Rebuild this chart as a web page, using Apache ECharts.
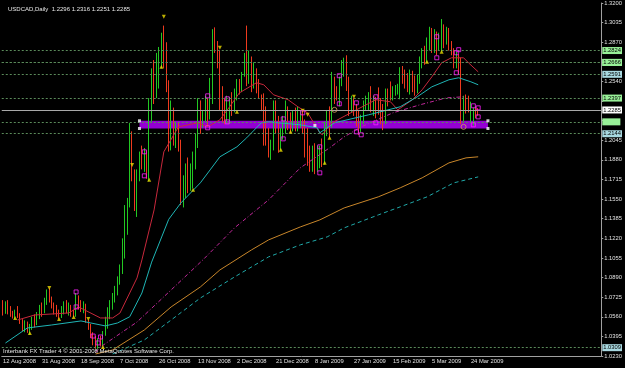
<!DOCTYPE html>
<html>
<head>
<meta charset="utf-8">
<script src="https://cdn.jsdelivr.net/npm/echarts@6/dist/echarts.min.js"></script>
<style>
  html, body { margin: 0; padding: 0; background: #000; }
  #chart { width: 625px; height: 368px; }
</style>
</head>
<body>
<div id="chart"></div>
<script>
// bars: [open, close, low, high], one per daily bar from 12 Aug 2008
const ohlc = [
  [1.0640,1.0600,1.0570,1.0700],[1.0600,1.0660,1.0585,1.0690],[1.0660,1.0620,1.0580,1.0700],[1.0620,1.0590,1.0560,1.0650],
  [1.0590,1.0560,1.0545,1.0610],[1.0560,1.0600,1.0540,1.0620],[1.0600,1.0570,1.0550,1.0650],[1.0570,1.0520,1.0500,1.0590],
  [1.0520,1.0480,1.0440,1.0540],[1.0480,1.0500,1.0430,1.0530],[1.0500,1.0460,1.0425,1.0520],[1.0460,1.0470,1.0410,1.0500],
  [1.0470,1.0530,1.0450,1.0560],[1.0530,1.0510,1.0470,1.0580],[1.0510,1.0560,1.0490,1.0600],[1.0560,1.0620,1.0540,1.0660],
  [1.0620,1.0600,1.0560,1.0680],[1.0600,1.0690,1.0590,1.0720],[1.0690,1.0740,1.0660,1.0790],[1.0740,1.0700,1.0680,1.0800],
  [1.0700,1.0650,1.0630,1.0730],[1.0650,1.0620,1.0580,1.0680],[1.0620,1.0580,1.0560,1.0660],[1.0580,1.0560,1.0540,1.0620],
  [1.0560,1.0610,1.0550,1.0650],[1.0610,1.0650,1.0580,1.0690],[1.0650,1.0620,1.0590,1.0700],[1.0620,1.0640,1.0570,1.0680],
  [1.0640,1.0590,1.0560,1.0660],[1.0590,1.0580,1.0555,1.0620],[1.0580,1.0700,1.0560,1.0760],[1.0700,1.0660,1.0620,1.0740],
  [1.0660,1.0630,1.0600,1.0700],[1.0630,1.0650,1.0590,1.0690],[1.0650,1.0530,1.0510,1.0670],[1.0530,1.0480,1.0450,1.0535],
  [1.0480,1.0410,1.0380,1.0500],[1.0410,1.0350,1.0320,1.0430],[1.0350,1.0320,1.0290,1.0400],[1.0320,1.0360,1.0290,1.0380],
  [1.0360,1.0330,1.0310,1.0400],[1.0330,1.0420,1.0309,1.0440],[1.0420,1.0500,1.0400,1.0560],[1.0500,1.0580,1.0460,1.0640],
  [1.0580,1.0660,1.0540,1.0700],[1.0660,1.0720,1.0620,1.0760],[1.0720,1.0780,1.0680,1.0820],[1.0780,1.0860,1.0740,1.0900],
  [1.0860,1.0950,1.0830,1.1000],[1.0950,1.1100,1.0920,1.1220],[1.1100,1.1400,1.1050,1.1500],[1.1400,1.1500,1.1250,1.1560],
  [1.1500,1.2100,1.1480,1.2190],[1.2100,1.1750,1.1700,1.2120],[1.1750,1.1600,1.1450,1.1800],[1.1600,1.1750,1.1400,1.1800],
  [1.1750,1.1900,1.1700,1.1950],[1.1900,1.1850,1.1800,1.2000],[1.1850,1.1900,1.1780,1.1980],[1.1900,1.1780,1.1720,1.1960],
  [1.1780,1.2350,1.1700,1.2400],[1.2350,1.2600,1.2200,1.2650],[1.2600,1.2450,1.2350,1.2720],[1.2450,1.2700,1.2400,1.2780],
  [1.2700,1.2800,1.2480,1.2830],[1.2800,1.2900,1.2650,1.2950],[1.2900,1.2750,1.2650,1.3010],[1.2750,1.2500,1.2450,1.2870],
  [1.2500,1.2250,1.1950,1.2550],[1.2000,1.2300,1.1960,1.2380],[1.2300,1.2050,1.2000,1.2320],[1.2050,1.2150,1.1980,1.2200],
  [1.2150,1.2000,1.1950,1.2200],[1.2000,1.1600,1.1500,1.2050],[1.1600,1.1650,1.1480,1.1750],[1.1650,1.1800,1.1560,1.1850],
  [1.1800,1.1650,1.1600,1.1900],[1.1650,1.1750,1.1620,1.1850],[1.1750,1.1900,1.1640,1.1950],[1.1900,1.2000,1.1800,1.2100],
  [1.2000,1.2300,1.1980,1.2400],[1.2300,1.2200,1.2100,1.2380],[1.2200,1.2250,1.2150,1.2300],[1.2250,1.2350,1.2200,1.2420],
  [1.2350,1.2250,1.2160,1.2400],[1.2250,1.2450,1.2220,1.2570],[1.2450,1.2850,1.2350,1.2980],[1.2950,1.2800,1.2780,1.2995],
  [1.2800,1.2750,1.2650,1.2880],[1.2750,1.2450,1.2300,1.2800],[1.2450,1.2300,1.2200,1.2500],[1.2300,1.2250,1.2180,1.2400],
  [1.2250,1.2350,1.2200,1.2420],[1.2250,1.2380,1.2180,1.2410],[1.2380,1.2300,1.2250,1.2450],[1.2300,1.2450,1.2280,1.2480],
  [1.2450,1.2500,1.2380,1.2560],[1.2500,1.2480,1.2430,1.2560],[1.2480,1.2600,1.2450,1.2620],[1.2600,1.2720,1.2580,1.2780],
  [1.2720,1.2550,1.2500,1.3010],[1.2550,1.2700,1.2520,1.2800],[1.2700,1.2500,1.2450,1.2750],[1.2500,1.2600,1.2480,1.2700],
  [1.2600,1.2480,1.2440,1.2650],[1.2480,1.2420,1.2400,1.2560],[1.2420,1.2350,1.2290,1.2430],[1.2350,1.2150,1.2000,1.2440],
  [1.2150,1.2080,1.2000,1.2330],[1.2080,1.1950,1.1900,1.2150],[1.1950,1.1980,1.1880,1.2050],[1.1980,1.2300,1.1960,1.2380],
  [1.2300,1.2200,1.2100,1.2380],[1.2200,1.2000,1.1940,1.2250],[1.2000,1.2100,1.1960,1.2150],[1.2100,1.2200,1.2050,1.2250],
  [1.2200,1.2300,1.2100,1.2380],[1.2300,1.2200,1.2130,1.2330],[1.2200,1.2150,1.2100,1.2280],[1.2150,1.2250,1.2120,1.2300],
  [1.2250,1.2150,1.2120,1.2320],[1.2150,1.2200,1.2120,1.2330],[1.2200,1.2250,1.2150,1.2290],[1.2250,1.2180,1.2100,1.2300],
  [1.2180,1.2050,1.1900,1.2220],[1.2050,1.1900,1.1830,1.2150],[1.1900,1.1850,1.1780,1.2000],[1.1850,1.1950,1.1780,1.2000],
  [1.1950,1.1850,1.1760,1.2020],[1.1850,1.1900,1.1780,1.2000],[1.1900,1.1950,1.1810,1.2000],[1.1950,1.1880,1.1820,1.2060],
  [1.1880,1.2150,1.1840,1.2200],[1.2150,1.2250,1.2080,1.2300],[1.2250,1.2180,1.2060,1.2330],[1.2180,1.2550,1.2150,1.2620],
  [1.2550,1.2450,1.2350,1.2580],[1.2450,1.2400,1.2380,1.2500],[1.2400,1.2550,1.2330,1.2580],[1.2550,1.2650,1.2500,1.2720],
  [1.2650,1.2720,1.2580,1.2740],[1.2720,1.2500,1.2460,1.2760],[1.2500,1.2300,1.2250,1.2580],[1.2300,1.2350,1.2280,1.2420],
  [1.2350,1.2300,1.2250,1.2400],[1.2300,1.2250,1.2160,1.2350],[1.2250,1.2150,1.2090,1.2300],[1.2150,1.2200,1.2110,1.2260],
  [1.2200,1.2330,1.2180,1.2380],[1.2330,1.2380,1.2300,1.2420],[1.2380,1.2420,1.2300,1.2450],[1.2420,1.2350,1.2280,1.2500],
  [1.2350,1.2380,1.2250,1.2420],[1.2380,1.2300,1.2230,1.2410],[1.2450,1.2320,1.2260,1.2490],[1.2320,1.2250,1.2180,1.2400],
  [1.2250,1.2200,1.2130,1.2350],[1.2200,1.2450,1.2180,1.2480],[1.2450,1.2400,1.2330,1.2480],[1.2530,1.2400,1.2380,1.2540],
  [1.2400,1.2450,1.2380,1.2500],[1.2450,1.2470,1.2420,1.2510],[1.2470,1.2500,1.2430,1.2520],[1.2500,1.2620,1.2390,1.2660],
  [1.2620,1.2600,1.2520,1.2670],[1.2600,1.2550,1.2480,1.2640],[1.2550,1.2520,1.2450,1.2610],[1.2520,1.2560,1.2430,1.2640],
  [1.2560,1.2500,1.2450,1.2630],[1.2500,1.2460,1.2420,1.2590],[1.2460,1.2550,1.2440,1.2600],[1.2550,1.2700,1.2520,1.2750],
  [1.2700,1.2780,1.2650,1.2820],[1.2780,1.2720,1.2680,1.2840],[1.2720,1.2880,1.2700,1.2910],[1.2880,1.2960,1.2800,1.3000],
  [1.2960,1.2850,1.2780,1.2990],[1.2850,1.2950,1.2780,1.2980],[1.2950,1.2850,1.2760,1.2960],[1.2850,1.2900,1.2800,1.2950],
  [1.2900,1.3000,1.2790,1.3065],[1.3000,1.2880,1.2820,1.3020],[1.2880,1.2950,1.2850,1.3000],[1.2950,1.2850,1.2800,1.2990],
  [1.2850,1.2800,1.2760,1.2880],[1.2800,1.2700,1.2650,1.2820],[1.2700,1.2750,1.2650,1.2790],[1.2750,1.2700,1.2600,1.2770],
  [1.2700,1.2250,1.2180,1.2740],[1.2250,1.2400,1.2200,1.2420],[1.2400,1.2380,1.2270,1.2430],[1.2380,1.2330,1.2280,1.2420],
  [1.2230,1.2340,1.2190,1.2370],[1.2200,1.2300,1.2170,1.2320],[1.2300,1.2290,1.2230,1.2330],[1.2296,1.2285,1.2251,1.2316]
]

// moving averages: [bar index, price]
const maFast = [
  [6,1.0533],[13,1.0575],[27,1.0592],[31,1.0643],[40,1.0550],[45,1.0550],[48,1.0592],[55,1.0887],[57,1.1038],
  [62,1.1459],[66,1.1948],[72,1.2158],[80,1.2192],[84,1.2158],[89,1.2217],[93,1.2327],[97,1.2444],[104,1.2529],
  [107,1.2512],[111,1.2428],[117,1.2386],[121,1.2327],[125,1.2276],[130,1.2108],[131,1.2091],[135,1.2192],
  [145,1.2301],[153,1.2386],[159,1.2369],[162,1.2301],[168,1.2386],[172,1.2470],[176,1.2579],[180,1.2697],
  [184,1.2739],[189,1.2739],[191,1.2697],[195,1.2621]
]
const maMid = [
  [1,1.0339],[10,1.0466],[20,1.0491],[32,1.0525],[36,1.0508],[42,1.0483],[47,1.0508],[52,1.0560],[57,1.0760],
  [61,1.1020],[68,1.1380],[73,1.1518],[81,1.1687],[85,1.1796],[89,1.1906],[96,1.1990],[100,1.2066],[106,1.2192],
  [109,1.2200],[113,1.2192],[122,1.2175],[129,1.2150],[130,1.2108],[136,1.2192],[150,1.2259],[163,1.2327],
  [170,1.2411],[176,1.2495],[183,1.2554],[187,1.2571],[192,1.2537],[195,1.2512]
]
const maSlow = [
  [38,1.0260],[40,1.0306],[55,1.0516],[69,1.0786],[82,1.1038],[95,1.1308],[109,1.1544],[122,1.1813],
  [134,1.1981],[140,1.2074],[147,1.2158],[160,1.2276],[171,1.2343],[182,1.2402],[189,1.2411]
]
const ma100 = [
  [38,1.0247],[45,1.0281],[58,1.0449],[69,1.0643],[81,1.0811],[89,1.0954],[102,1.1123],[109,1.1207],
  [122,1.1316],[130,1.1375],[140,1.1476],[154,1.1569],[163,1.1645],[172,1.1729],[183,1.1855],[190,1.1897],[195,1.1906]
]
const ma200 = [
  [45,1.0247],[58,1.0365],[69,1.0533],[81,1.0718],[95,1.0895],[109,1.1064],[122,1.1165],[133,1.1232],
  [140,1.1308],[154,1.1417],[163,1.1485],[174,1.1569],[185,1.1687],[195,1.1737]
]

// arrow marks above highs / below lows
const arrowsDown = [[19,1.0803],[35,1.0541],[53,1.1838],[66,1.3084],[89,1.2823],[123,1.2293],[125,1.2259],[144,1.2411]]
const arrowsUp = [
  [5,1.0550],[11,1.0424],[23,1.0541],[29,1.0558],[41,1.0306],[60,1.1712],[65,1.2663],[78,1.1628],
  [96,1.2284],[114,1.1965],[118,1.2116],[132,1.1855],[134,1.2066],[174,1.2705],[180,1.2790]
]
const squares = [
  [30,1.0769],[30,1.0643],[37,1.0398],[39,1.0340],[40,1.0390],[58,1.1948],[58,1.1746],[84,1.2419],[84,1.2150],
  [92,1.2394],[92,1.2200],[115,1.2225],[115,1.2057],[123,1.2276],[130,1.1990],[130,1.1771],[138,1.2588],
  [138,1.2352],[145,1.2360],[145,1.2116],[147,1.2091],[153,1.2411],[153,1.2192],[178,1.2916],[178,1.2739],
  [186,1.2781],[187,1.2807],[186,1.2613],[193,1.2335],[193,1.2175],[195,1.2318],[195,1.2242]
]
const circles = [[136,1.2301],[189,1.2158]]
const corners = [[56,1.2209],[56,1.2144],[199,1.2209],[199,1.2144],[128,1.2170]]

// horizontal levels
const greenLevels = [1.2824, 1.2731, 1.2666, 1.2397]
const blueLevels = [1.2591, 1.2144, 1.0309]
const blankLevel = 1.2209
const lastPrice = 1.2285
const band = [56, 199, 1.2144, 1.2209]

const titleText = 'USDCAD,Daily  1.2296 1.2316 1.2251 1.2285'
const footText = 'Interbank FX Trader 4 \u00a9 2001-2008 MetaQuotes Software Corp.'

const slotCount = 246
const months = ['Jan', 'Feb', 'Mar', 'Apr', 'May', 'Jun', 'Jul', 'Aug', 'Sep', 'Oct', 'Nov', 'Dec']
// broker calendar: every day except Saturday
const categories = []
const d = new Date(Date.UTC(2008, 7, 12))
while (categories.length < slotCount) {
  if (d.getUTCDay() !== 6) {
    categories.push(d.getUTCDate() + ' ' + months[d.getUTCMonth()] + ' ' + d.getUTCFullYear())
  }
  d.setUTCDate(d.getUTCDate() + 1)
}

const font = 'Liberation Sans'
const hiddenTicks = [1.2705, 1.2375, 1.221]

// one series per level so that no box label gets dropped
function levelSeries(value, bg, text, solid) {
  return {
    type: 'line',
    data: [],
    z: 6,
    silent: true,
    markLine: {
      silent: true,
      symbol: 'none',
      animation: false,
      data: [
        {
          yAxis: value,
          lineStyle: solid
            ? { color: '#a8a8a8', type: 'solid', width: 1 }
            : { color: '#5a8a5a', type: [2, 2], width: 1 },
          label: {
            show: true,
            position: 'end',
            distance: 1,
            formatter: text,
            backgroundColor: bg,
            color: '#000',
            fontSize: 5.8,
            fontFamily: font,
            padding: [1, 1, 0, 1],
            lineHeight: 6,
          },
        },
      ],
    },
  }
}

const levelSeriesList = []
greenLevels.forEach((v) => levelSeriesList.push(levelSeries(v, '#98f098', v.toFixed(4), false)))
blueLevels.forEach((v) => levelSeriesList.push(levelSeries(v, '#a8d8e0', v.toFixed(4), false)))
levelSeriesList.push(levelSeries(blankLevel, '#98f098', '          ', false))
levelSeriesList.push(levelSeries(lastPrice, '#ffffff', lastPrice.toFixed(4), true))

const chart = echarts.init(document.getElementById('chart'), null, { renderer: 'canvas' })

function maSeries(data, color, type, z) {
  return {
    type: 'line',
    data: data,
    symbol: 'none',
    smooth: false,
    z: z,
    lineStyle: { color: color, width: 1, type: type },
    silent: true,
  }
}

chart.setOption({
  backgroundColor: '#000000',
  animation: false,
  title: {
    text: titleText,
    left: 3,
    top: 1,
    textStyle: { color: '#e8e8e8', fontSize: 6, fontWeight: 'normal', fontFamily: font },
  },
  graphic: [
    {
      type: 'text',
      left: 3,
      top: 348,
      style: { text: footText, fill: '#e8e8e8', fontSize: 6, fontFamily: font },
      z: 50,
    },
  ],
  grid: { left: 0, right: 23, top: 3, bottom: 12 },
  xAxis: {
    type: 'category',
    data: categories,
    boundaryGap: true,
    axisLine: { lineStyle: { color: '#a0a0a0', width: 1 } },
    axisTick: {
      alignWithLabel: true,
      length: 3,
      lineStyle: { color: '#a0a0a0' },
      interval: (idx) => idx % 16 === 0 && idx <= 192,
    },
    axisLabel: {
      interval: (idx) => idx % 16 === 0 && idx <= 192,
      align: 'left',
      margin: 2,
      color: '#e0e0e0',
      fontSize: 5.8,
      fontFamily: font,
    },
    splitLine: { show: false },
  },
  yAxis: {
    type: 'value',
    position: 'right',
    min: 1.023,
    max: 1.32,
    interval: 0.0165,
    axisLine: { show: true, lineStyle: { color: '#a0a0a0', width: 1 } },
    axisTick: { show: true, length: 2, lineStyle: { color: '#a0a0a0' } },
    axisLabel: {
      margin: 3,
      color: '#e0e0e0',
      fontSize: 5.8,
      fontFamily: font,
      formatter: (v) => (hiddenTicks.some((h) => Math.abs(h - v) < 1e-6) ? '' : v.toFixed(4)),
    },
    splitLine: { show: false },
  },
  series: [
    {
      type: 'line',
      data: [],
      z: 1,
      silent: true,
      markArea: {
        silent: true,
        itemStyle: { color: '#9400d3', opacity: 1 },
        data: [[{ xAxis: categories[band[0]], yAxis: band[3] }, { xAxis: categories[band[1]], yAxis: band[2] }]],
      },
    },
    ...levelSeriesList,
    {
      type: 'candlestick',
      data: ohlc,
      z: 3,
      barWidth: 1,
      itemStyle: {
        color: '#22c822',
        color0: '#ee3a1e',
        borderColor: '#22c822',
        borderColor0: '#ee3a1e',
        borderWidth: 1,
      },
    },
    maSeries(maFast, '#c8283c', 'solid', 4),
    maSeries(maMid, '#1fb5b5', 'solid', 4),
    maSeries(maSlow, '#c0289a', [4, 2, 1, 2], 4),
    maSeries(ma100, '#c8862a', 'solid', 4),
    maSeries(ma200, '#20a8a8', [4, 3], 4),
    {
      type: 'scatter',
      data: arrowsDown,
      symbol: 'triangle',
      symbolRotate: 180,
      symbolSize: 4,
      z: 5,
      itemStyle: { color: '#e8d800' },
    },
    {
      type: 'scatter',
      data: arrowsUp,
      symbol: 'triangle',
      symbolSize: 4,
      z: 5,
      itemStyle: { color: '#e8d800' },
    },
    {
      type: 'scatter',
      data: squares,
      symbol: 'rect',
      symbolSize: 4,
      z: 5,
      itemStyle: { color: 'transparent', borderColor: '#ff20ff', borderWidth: 1 },
    },
    {
      type: 'scatter',
      data: circles,
      symbol: 'circle',
      symbolSize: 5,
      z: 5,
      itemStyle: { color: 'transparent', borderColor: '#d8a060', borderWidth: 1 },
    },
    {
      type: 'scatter',
      data: corners,
      symbol: 'rect',
      symbolSize: 3,
      z: 5,
      itemStyle: { color: '#ffffff' },
    },
  ],
})
</script>
</body>
</html>
